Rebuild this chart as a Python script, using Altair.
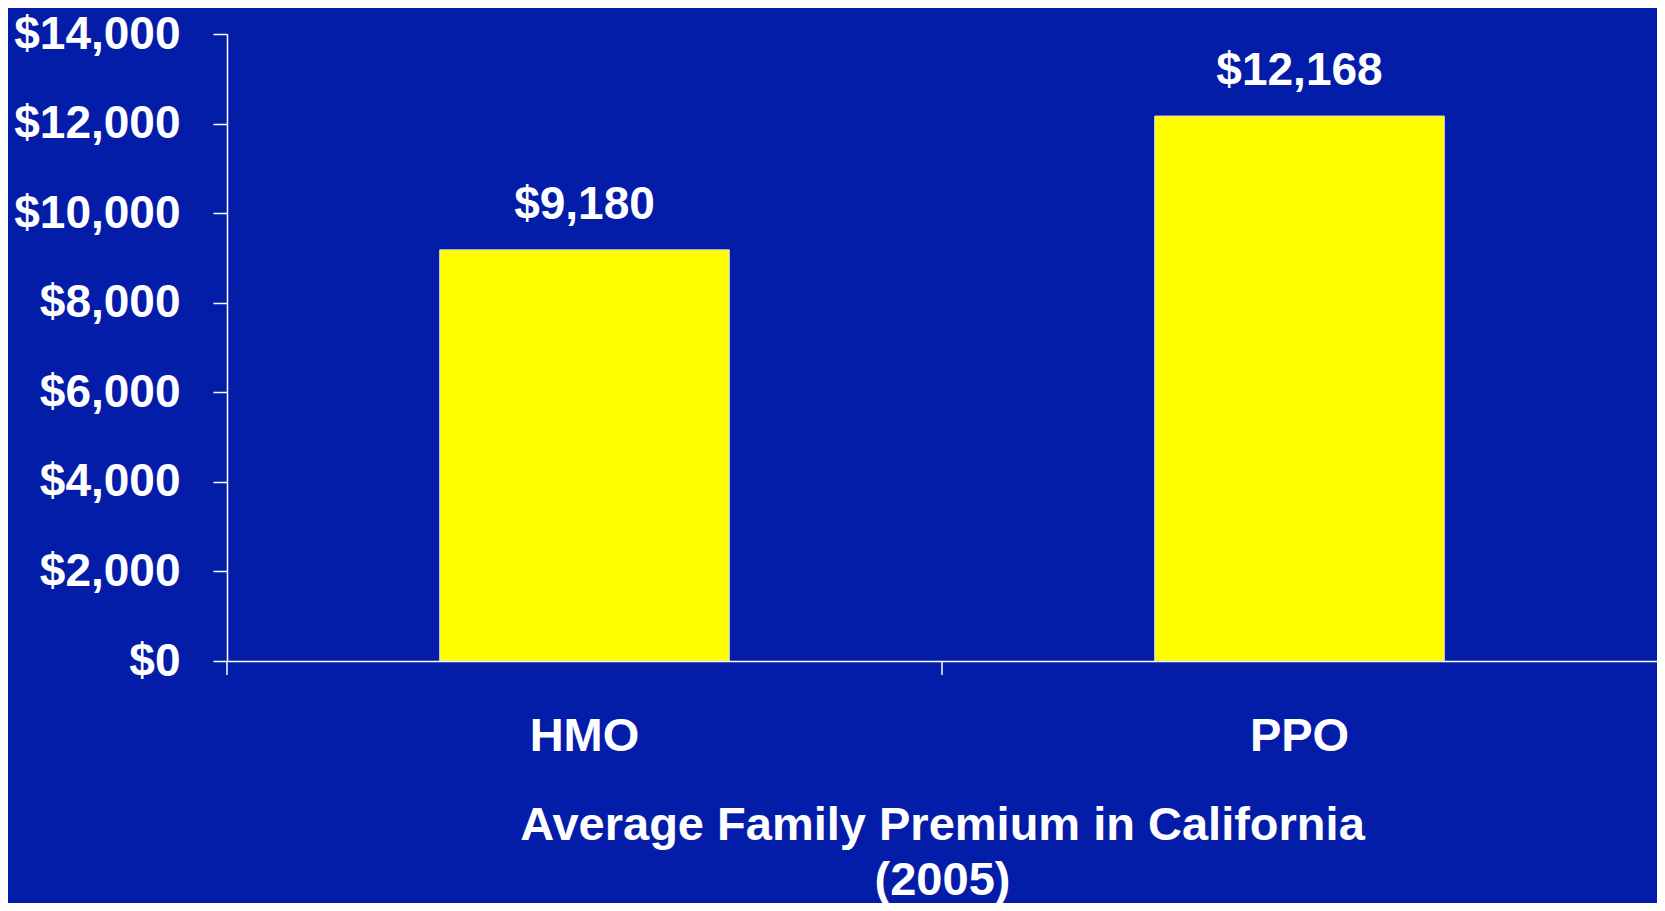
import altair as alt
import pandas as pd

# Data
plans = ["HMO", "PPO"]
premiums = [9180, 12168]
y_ticks = [0, 2000, 4000, 6000, 8000, 10000, 12000, 14000]
title_lines = ["Average Family Premium in California", "(2005)"]

df = pd.DataFrame({"plan": plans, "premium": premiums})

FONT = "Liberation Sans"
BG = "#041DA9"

x_axis = alt.Axis(
    title=title_lines,
    titleFont=FONT,
    titleFontSize=47,
    titleFontWeight="bold",
    titleColor="white",
    titleY=178,
    titleBaseline="alphabetic",
    titleLineHeight=55,
    labelAngle=0,
    labelFont=FONT,
    labelFontSize=47,
    labelFontWeight="bold",
    labelColor="white",
    labelBaseline="alphabetic",
    labelPadding=89,
    ticks=False,
    tickSize=0,
    domainColor="white",
    domainWidth=1.5,
    grid=False,
)
x_scale = alt.Scale(paddingInner=0, paddingOuter=0)

y_enc = alt.Y(
    "premium:Q",
    scale=alt.Scale(domain=[0, 14000], nice=False),
    axis=alt.Axis(
        title=None,
        values=y_ticks,
        format="$,.0f",
        labelFont=FONT,
        labelFontSize=46,
        labelFontWeight="bold",
        labelColor="white",
        labelPadding=33,
        tickColor="white",
        tickSize=14,
        tickWidth=1.5,
        domainColor="white",
        domainWidth=1.5,
        grid=False,
    ),
)

base = alt.Chart(df)

bars = base.mark_bar(
    color="#FFFF00", width=alt.RelativeBandSize(0.405), stroke="#DDDDDD", strokeWidth=1
).encode(x=alt.X("plan:N", sort=plans, scale=x_scale, axis=x_axis), y=y_enc)

labels = base.mark_text(
    dy=-31, baseline="alphabetic", align="center",
    font=FONT, fontSize=46, fontWeight="bold", color="white"
).encode(
    x=alt.X("plan:N", sort=plans, scale=x_scale, axis=x_axis),
    y=y_enc,
    text=alt.Text("premium:Q", format="$,.0f"),
)

ticks = base.mark_rule(color="white", strokeWidth=1.5).encode(
    x=alt.X("plan:N", sort=plans, scale=x_scale, axis=x_axis, bandPosition=0),
    y=alt.value(627),
    y2=alt.value(641),
)

chart = alt.layer(bars, labels, ticks).properties(
    width=1430,
    height=627,
    background=BG,
    autosize=alt.AutoSizeParams(type="none"),
    padding={"left": 219, "top": 26, "right": 0, "bottom": 242},
).configure_view(stroke=None)

chart.save("out.html", embed_options={"renderer": "svg", "actions": False})
